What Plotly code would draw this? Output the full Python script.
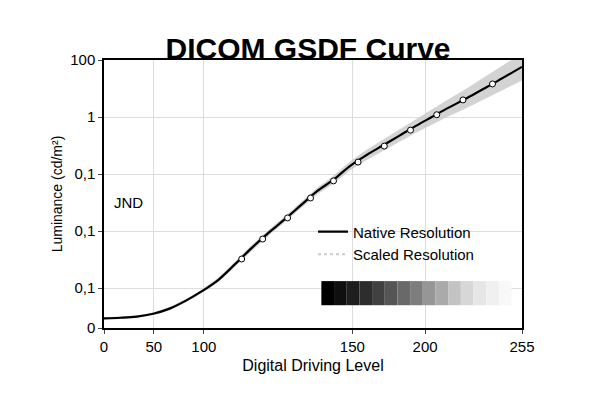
import plotly.graph_objects as go

# x positions in axis units (axis drawn linearly, tick labels as printed)
x_tickvals = [0, 30.4, 60.9, 151.5, 195.9, 255]
x_ticktext = ["0", "50", "100", "150", "200", "255"]
y_tickvals = [0, 0.7, 1.7, 2.7, 3.7, 4.7]
y_ticktext = ["0", "0,1", "0,1", "0,1", "1", "100"]

curve_x = [0, 10, 20, 30, 40, 50, 60, 70, 80, 90, 100, 110, 120, 130, 140, 150, 160, 170, 180, 190, 200, 210, 220, 230, 240, 255]
curve_y = [0.17, 0.18, 0.2, 0.25, 0.34, 0.48, 0.65, 0.85, 1.12, 1.4, 1.66, 1.9, 2.15, 2.4, 2.6, 2.84, 3.03, 3.2, 3.37, 3.54, 3.7, 3.86, 4.01, 4.17, 4.33, 4.58]
band_w = [0.02, 0.02, 0.02, 0.02, 0.03, 0.03, 0.03, 0.04, 0.04, 0.05, 0.05, 0.05, 0.06, 0.06, 0.07, 0.08, 0.09, 0.1, 0.11, 0.12, 0.13, 0.15, 0.17, 0.19, 0.21, 0.24]
marker_x = [84, 96.8, 112, 126, 140, 155, 171, 187, 203, 219, 237]
marker_y = [1.21, 1.56, 1.93, 2.28, 2.58, 2.91, 3.19, 3.47, 3.74, 4.0, 4.28]
gray_levels = [0, 15, 30, 45, 65, 85, 105, 125, 150, 170, 195, 215, 230, 240, 248]

fig = go.Figure()
upper = [y + w for y, w in zip(curve_y, band_w)]
lower = [y - w for y, w in zip(curve_y, band_w)]
fig.add_trace(go.Scatter(x=curve_x + curve_x[::-1], y=upper + lower[::-1], fill="toself",
                         fillcolor="rgba(200,200,200,0.8)", line=dict(width=0), showlegend=False, hoverinfo="skip"))
fig.add_trace(go.Scatter(x=curve_x, y=curve_y, mode="lines", line=dict(color="black", width=2.2, shape="spline"),
                         name="Native Resolution"))
fig.add_trace(go.Scatter(x=[None], y=[None], mode="lines", line=dict(color="#cccccc", width=2, dash="dot"),
                         name="Scaled Resolution"))
fig.add_trace(go.Scatter(x=marker_x, y=marker_y, mode="markers", showlegend=False,
                         marker=dict(color="white", size=6, line=dict(color="black", width=1))))

shapes = []
x0, x1 = 0.52, 0.975
n = len(gray_levels)
for i, g in enumerate(gray_levels):
    shapes.append(dict(type="rect", xref="paper", yref="paper",
                       x0=x0 + (x1 - x0) * i / n, x1=x0 + (x1 - x0) * (i + 1) / n,
                       y0=0.085, y1=0.175, line=dict(width=0), fillcolor=f"rgb({g},{g},{g})"))

fig.update_layout(
    width=600, height=400, template="plotly_white", paper_bgcolor="white", plot_bgcolor="white",
    margin=dict(l=96, r=86, t=52, b=80),
    font=dict(family="Liberation Sans, Arial", color="black", size=15),
    title=dict(text="<b>DICOM GSDF Curve</b>", x=0.5, xanchor="center", y=0.925, font=dict(size=30, family="Liberation Sans")),
    xaxis=dict(range=[0, 255], tickvals=x_tickvals, ticktext=x_ticktext, showline=True, linecolor="black",
               mirror=True, linewidth=1.5, gridcolor="#dddddd", ticks="outside", ticklen=4,
               title=dict(text="Digital Driving Level", standoff=6, font=dict(size=16)), zeroline=False),
    yaxis=dict(range=[0, 4.7], tickvals=y_tickvals, ticktext=y_ticktext, showline=True, linecolor="black",
               mirror=True, linewidth=1.5, gridcolor="#dddddd", ticks="outside", ticklen=4,
               title=dict(text="Luminance (cd/m²)", standoff=4, font=dict(size=14)), zeroline=False),
    legend=dict(x=0.5, y=0.42, xanchor="left", yanchor="top", bgcolor="rgba(0,0,0,0)", font=dict(size=15)),
    shapes=shapes,
    annotations=[dict(text="JND", xref="paper", yref="paper", x=0.02, y=0.47, showarrow=False,
                      xanchor="left", font=dict(size=15))],
)
fig.write_html("out.html")
